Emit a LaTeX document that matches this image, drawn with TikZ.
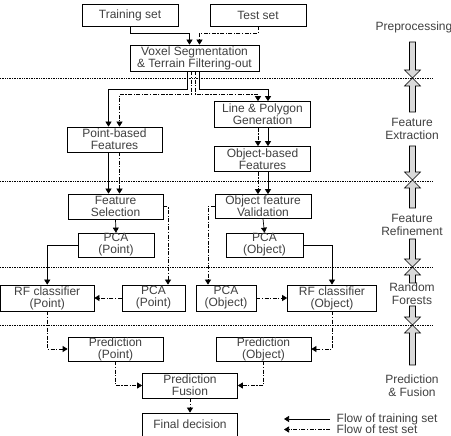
\documentclass[tikz,border=0pt]{standalone}
\usepackage{fontspec}
\setmainfont{Liberation Sans}
\usetikzlibrary{arrows.meta, calc}

\tikzset{
  stage/.style={draw, line width=0.7pt, inner sep=0pt, align=center, text=black!75, font=\fontsize{12}{12}\selectfont},
  train/.style={line width=0.7pt, -{Triangle[length=5pt,width=6pt]}},
  test/.style={train, dash pattern=on 4pt off 1.5pt on 1.2pt off 1.5pt},
  phase/.style={draw, line width=0.6pt, fill=black!15},
  sep/.style={densely dotted, line width=0.7pt},
  phaselabel/.style={align=center, text=black!75, font=\fontsize{12}{13}\selectfont},
}

\begin{document}
\begin{tikzpicture}[x=1pt,y=-1pt]
  \useasboundingbox (0,0) rectangle (451,436);

  % separators between phases
  \draw[sep] (0,78) -- (433,78);
  \draw[sep] (0,181) -- (433,181);
  \draw[sep] (0,267) -- (433,267);
  \draw[sep] (0,325) -- (433,325);

  % boxes
  \node[stage, minimum width=96pt, minimum height=22pt] (train) at (130,15) {Training set};
  \node[stage, minimum width=96pt, minimum height=22pt] (test) at (258,15) {Test set};
  \node[stage, minimum width=129pt, minimum height=26pt] (voxel) at (194.5,58) {Voxel Segmentation\\\& Terrain Filtering-out};
  \node[stage, minimum width=95pt, minimum height=25pt] (pointfeat) at (114.5,139.5) {Point-based\\Features};
  \node[stage, minimum width=96pt, minimum height=26pt] (linepoly) at (262.5,114.5) {Line \& Polygon\\Generation};
  \node[stage, minimum width=96pt, minimum height=25pt] (objfeat) at (262.5,159) {Object-based\\Features};
  \node[stage, minimum width=95pt, minimum height=25pt] (featsel) at (115.5,206.5) {Feature\\Selection};
  \node[stage, minimum width=96pt, minimum height=24pt] (objval) at (263,206.5) {Object feature\\Validation};
  \node[stage, minimum width=76pt, minimum height=24pt] (pcapt) at (116,245) {PCA\\(Point)};
  \node[stage, minimum width=77pt, minimum height=24pt] (pcaobj) at (264.5,245) {PCA\\(Object)};
  \node[stage, minimum width=93.5pt, minimum height=26pt] (rfpt) at (47.25,298) {RF classifier\\(Point)};
  \node[stage, minimum width=63pt, minimum height=26pt] (pcapttest) at (153.5,298) {PCA\\(Point)};
  \node[stage, minimum width=60pt, minimum height=26pt] (pcaobjtest) at (226,298) {PCA\\(Object)};
  \node[stage, minimum width=89pt, minimum height=26pt] (rfobj) at (332,298) {RF classifier\\(Object)};
  \node[stage, minimum width=95pt, minimum height=24pt] (predpt) at (115.5,349) {Prediction\\(Point)};
  \node[stage, minimum width=95pt, minimum height=24pt] (predobj) at (263.5,349) {Prediction\\(Object)};
  \node[stage, minimum width=95pt, minimum height=25pt] (fusion) at (190,385.5) {Prediction\\Fusion};
  \node[stage, minimum width=95pt, minimum height=23pt] (final) at (190,424.5) {Final decision};

  % preprocessing
  \draw[train] (train.south) -- ++(0,7) -| ([xshift=-5pt]voxel.north);
  \draw[test] (test.south) -- ++(0,7) -| ([xshift=5pt]voxel.north);
  \draw[train] ([xshift=-7.5pt]voxel.south) -- ++(0,18) -| ([xshift=-6pt]pointfeat.north);
  \draw[test] ([xshift=-3.5pt]voxel.south) -- ++(0,23) -| ([xshift=5pt]pointfeat.north);
  \draw[test] ([xshift=0.5pt]voxel.south) -- ++(0,23) -| ([xshift=-4.5pt]linepoly.north);
  \draw[train] ([xshift=4.5pt]voxel.south) -- ++(0,18) -| ([xshift=5.5pt]linepoly.north);

  % feature extraction
  \draw[test] ([xshift=-4.5pt]linepoly.south) -- ([xshift=-4.5pt]objfeat.north);
  \draw[train] ([xshift=5.5pt]linepoly.south) -- ([xshift=5.5pt]objfeat.north);
  \draw[train] ([xshift=-6pt]pointfeat.south) -- ([xshift=-7pt]featsel.north);
  \draw[test] ([xshift=5pt]pointfeat.south) -- ([xshift=4pt]featsel.north);
  \draw[test] ([xshift=-4.5pt]objfeat.south) -- ([xshift=-5pt]objval.north);
  \draw[train] ([xshift=5.5pt]objfeat.south) -- ([xshift=5pt]objval.north);

  % feature refinement
  \draw[train] (featsel.south) -- (pcapt.north);
  \draw[train] (objval.south) -- (pcaobj.north);
  \draw[test] (featsel.east) -| ([xshift=14.5pt]pcapttest.north);
  \draw[test] (objval.west) -| ([xshift=-18pt]pcaobjtest.north);

  % random forests
  \draw[train] (pcapt.west) -| (rfpt.north);
  \draw[train] (pcaobj.east) -| (rfobj.north);
  \draw[test] (pcapttest.west) -- (rfpt.east);
  \draw[test] (pcaobjtest.east) -- (rfobj.west);

  % prediction and fusion
  \draw[test] (rfpt.south) |- (predpt.west);
  \draw[test] (rfobj.south) |- (predobj.east);
  \draw[test] (predpt.south) |- (fusion.west);
  \draw[test] (predobj.south) |- (fusion.east);
  \draw[test] (fusion.south) -- (final.north);

  % phase arrows
  \draw[phase] (409.5,42) -- ++(6,0) -- ++(0,28) -- ++(5,0) -- ++(-8,8) -- ++(-8,-8) -- ++(5,0) -- cycle;
  \draw[phase] (409.5,112) -- ++(6,0) -- ++(0,-26) -- ++(5,0) -- ++(-8,-8) -- ++(-8,8) -- ++(5,0) -- cycle;
  \draw[phase] (409.5,146) -- ++(6,0) -- ++(0,26) -- ++(5,0) -- ++(-8,8) -- ++(-8,-8) -- ++(5,0) -- cycle;
  \draw[phase] (409.5,208) -- ++(6,0) -- ++(0,-20) -- ++(5,0) -- ++(-8,-8) -- ++(-8,8) -- ++(5,0) -- cycle;
  \draw[phase] (409.5,239) -- ++(6,0) -- ++(0,20) -- ++(5,0) -- ++(-8,8) -- ++(-8,-8) -- ++(5,0) -- cycle;
  \draw[phase] (409.5,283) -- ++(6,0) -- ++(0,-8) -- ++(5,0) -- ++(-8,-8) -- ++(-8,8) -- ++(5,0) -- cycle;
  \draw[phase] (409.5,306) -- ++(6,0) -- ++(0,11) -- ++(5,0) -- ++(-8,8) -- ++(-8,-8) -- ++(5,0) -- cycle;
  \draw[phase] (409.5,365) -- ++(6,0) -- ++(0,-32) -- ++(5,0) -- ++(-8,-8) -- ++(-8,8) -- ++(5,0) -- cycle;

  % phase labels
  \node[phaselabel] (prelabel) at (414,27) {Preprocessing};
  \node[phaselabel] (extlabel) at (412,129) {Feature\\Extraction};
  \node[phaselabel] (reflabel) at (412,225) {Feature\\Refinement};
  \node[phaselabel] (rflabel) at (412,294) {Random\\Forests};
  \node[phaselabel] (predlabel) at (412,385.5) {Prediction\\\& Fusion};

  % legend
  \node[phaselabel, anchor=west, inner sep=0.5pt] (legtrain) at (336,419) {Flow of training set};
  \node[phaselabel, anchor=west, inner sep=0.5pt] (legtest) at (336,429.5) {Flow of test set};
  \coordinate (legtrainend) at (284,419);
  \coordinate (legtestend) at (284,429.5);
  \draw[train] ([xshift=-6pt]legtrain.west) -- (legtrainend);
  \draw[test] ([xshift=-6pt]legtest.west) -- (legtestend);
\end{tikzpicture}
\end{document}
